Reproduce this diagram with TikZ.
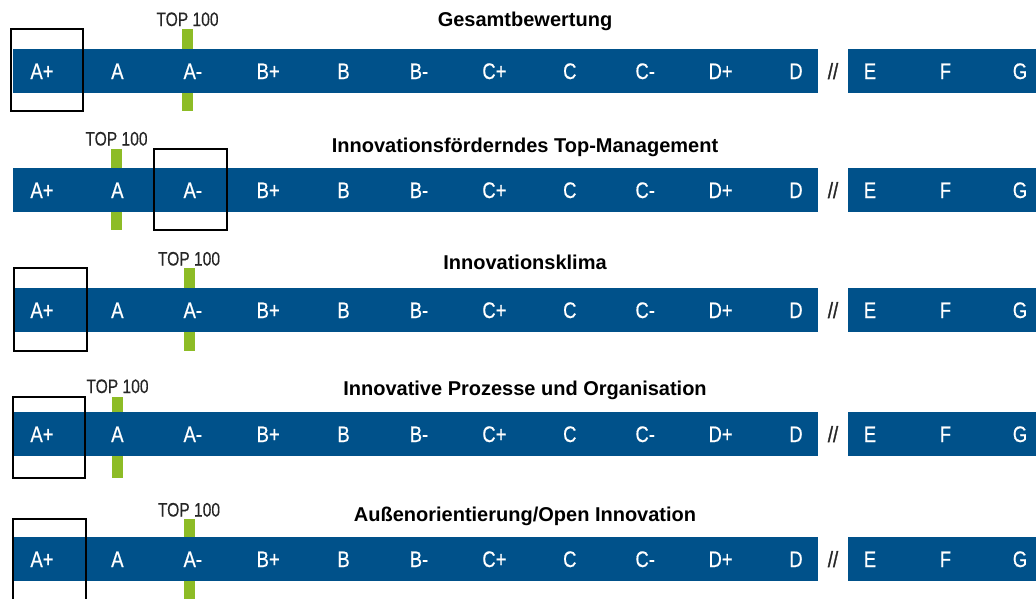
\documentclass[tikz,border=0pt]{standalone}
\usepackage{fontspec}
\setmainfont{Liberation Sans}
\newfontfamily\condf{Liberation Sans}[FakeStretch=0.8,FakeBold=0.3]
\newfontfamily\gradef{Liberation Sans}[FakeStretch=0.82,FakeBold=0.5]
\newfontfamily\slashf{Liberation Sans}[FakeStretch=0.85,FakeBold=1.2]
\newfontfamily\titlef{Liberation Sans Bold}[FakeStretch=1.0]
\definecolor{barblue}{RGB}{0,81,138}
\definecolor{topgreen}{RGB}{141,188,38}
\tikzset{
  grade/.style={text=white, font=\gradef\fontsize{22.5}{22.5}\selectfont, inner sep=0pt, text height=16pt, text depth=0pt, anchor=center},
  slashes/.style={text=black!85, font=\slashf\fontsize{22}{22}\selectfont, inner sep=0pt, text height=16pt, text depth=0pt},
  toplabel/.style={text=black!85, font=\condf\fontsize{19.5}{19.5}\selectfont, inner sep=0pt, text height=14pt, text depth=0pt},
  rowtitle/.style={text=black, font=\titlef\fontsize{20}{20}\selectfont, inner sep=0pt, text height=14pt, text depth=0pt},
  markbox/.style={draw=black, line width=2.6pt},
  greenbar/.style={fill=topgreen},
  bluebar/.style={fill=barblue}
}
\begin{document}
\begin{tikzpicture}[x=1pt,y=-1pt]
\useasboundingbox (0,0) rectangle (1036,598);
\clip (0,0) rectangle (1036,598);
\foreach \T/\ty/\tpy/\gx/\bxa/\bxb/\bya/\byb/\ttl [count=\r] in {
  49/19.5/19/187.5/11/83/29/111/{Gesamtbewertung},
  168/145/138.5/116.5/154/227/149/230/{Innovationsförderndes Top-Management},
  288/262.5/258.5/189/14/87/268/351/{Innovationsklima},
  412/388.5/386/117.5/13/85/397/478/{Innovative Prozesse und Organisation},
  537/514/509.5/189/13/86/519/601/{Außenorientierung/Open Innovation}} {
  \fill[greenbar] (\gx-5.5,\bya) rectangle (\gx+5.5,\byb);
  \fill[bluebar] (13,\T) rectangle (818,\T+44);
  \fill[bluebar] (848,\T) rectangle (1036,\T+44);
  \foreach \lab [count=\i from 0] in {A+,A,A-,B+,B,B-,C+,C,C-,D+,D} {
    \node[grade] (g\r-\i) at ({42+75.4*\i},\T+22) {\lab};
  }
  \node[grade] (g\r-e) at (870,\T+22) {E};
  \node[grade] (g\r-f) at (945.5,\T+22) {F};
  \node[grade] (g\r-g) at (1020,\T+22) {G};
  \node[slashes] (s\r) at (833,\T+22) {//};
  \node[toplabel] (t\r) at (\gx,\tpy) {TOP 100};
  \node[rowtitle] (h\r) at (525,\ty) {\ttl};
  \draw[markbox] (\bxa,\bya) rectangle (\bxb,\byb);
}
\end{tikzpicture}
\end{document}
